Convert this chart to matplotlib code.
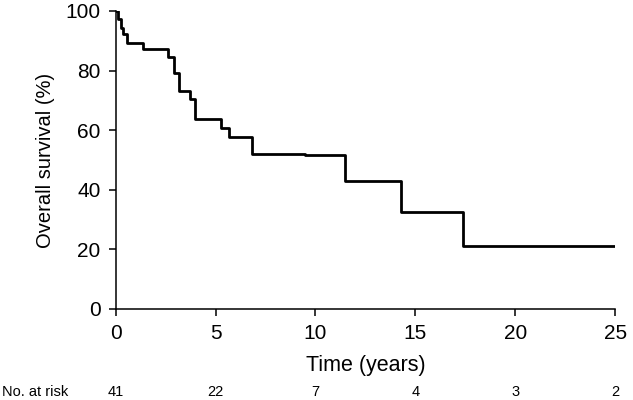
import numpy as np
import matplotlib
matplotlib.use('Agg')
import matplotlib.pyplot as plt
import matplotlib.transforms as mtransforms

plt.rcParams['font.family'] = ['Liberation Sans', 'DejaVu Sans']

# step times (years) and survival (%) after each drop
times = [0, 0.12, 0.25, 0.35, 0.55, 1.37, 2.62, 2.9, 3.15, 3.73, 3.96, 5.29, 5.66, 6.8, 9.5, 11.5, 14.3, 17.4, 25]
surv = [100, 97.2, 94.4, 92.2, 89.4, 87.2, 84.4, 79.1, 73.3, 70.5, 63.9, 60.6, 57.6, 52.1, 51.6, 43.1, 32.6, 21.3, 21.3]

risk_times = [0, 5, 10, 15, 20, 25]
risk_n = [41, 22, 7, 4, 3, 2]

fig = plt.figure(figsize=(6.33, 4.0), dpi=100)
ax = fig.add_axes([0.1828, 0.2275, 0.789, 0.745])

ax.step(times, surv, where='post', color='black', lw=2.0)

ax.set_xlim(0, 25)
ax.set_ylim(0, 100)
ax.set_xticks(risk_times)
ax.set_yticks(np.arange(0, 101, 20))
ax.spines['top'].set_visible(False)
ax.spines['right'].set_visible(False)
for s in ['left', 'bottom']:
    ax.spines[s].set_linewidth(1.1)
ax.tick_params(direction='out', length=5, width=1.1, labelsize=15)
ax.tick_params(axis='y', pad=6)
ax.tick_params(axis='x', pad=6)
ax.margins(0)

ax.set_xlabel('Time (years)', fontsize=15.5)
ax.set_ylabel('Overall survival (%)', fontsize=14.5)
ax.xaxis.set_label_coords(0.5, -0.155)
ax.yaxis.set_label_coords(-0.122, 0.5)

trans = mtransforms.blended_transform_factory(ax.transData, fig.transFigure)
for t, n in zip(risk_times, risk_n):
    ax.text(t, 0.02, str(n), transform=trans, ha='center', va='center', fontsize=10.5)
fig.text(0.003, 0.02, 'No. at risk', ha='left', va='center', fontsize=10.5)

plt.savefig('out.png', dpi=100)
